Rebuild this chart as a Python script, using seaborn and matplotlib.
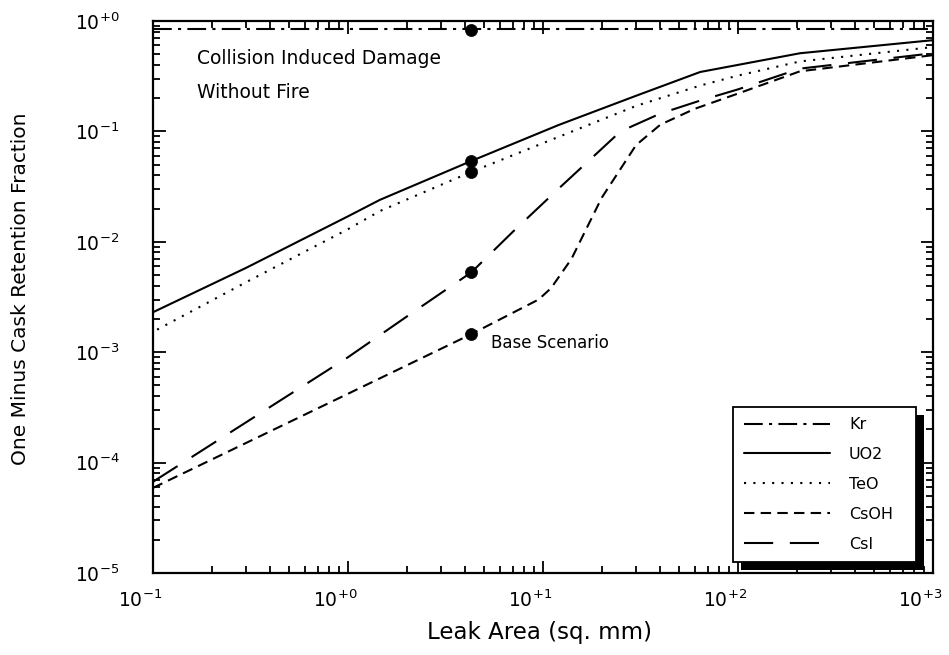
import numpy as np
import pandas as pd
import matplotlib
matplotlib.use("Agg")
import matplotlib.pyplot as plt
from matplotlib.patches import Rectangle
from matplotlib.transforms import IdentityTransform, ScaledTranslation
import seaborn as sns

# Leak area (sq. mm) and one-minus-retention fractions for each species
kr_area = [0.1, 1000.0]
kr_frac = [0.85, 0.85]

uo2_area = [0.1, 0.3, 1.0, 1.46, 4.3, 12.0, 30.0, 64.0, 100.0, 208.0, 1000.0]
uo2_frac = [0.0023, 0.0058, 0.017, 0.024, 0.054, 0.114, 0.21, 0.345, 0.40, 0.51, 0.67]

teo_area = [0.105, 0.3, 1.0, 1.46, 4.3, 12.0, 30.0, 64.0, 100.0, 208.0, 1000.0]
teo_frac = [0.0016, 0.0043, 0.013, 0.019, 0.043, 0.089, 0.17, 0.26, 0.32, 0.43, 0.58]

csoh_area = [0.1, 1.0, 4.3, 9.5, 11.0, 14.0, 20.0, 30.0, 40.0, 60.0, 100.0, 208.0, 1000.0]
csoh_frac = [5.9e-5, 4.2e-4, 0.00146, 0.0030, 0.0038, 0.007, 0.025, 0.075, 0.115, 0.16, 0.22, 0.35, 0.49]

csi_area = [0.1, 1.0, 2.0, 4.3, 7.0, 12.2, 25.0, 40.0, 64.0, 100.0, 208.0, 1000.0]
csi_frac = [6.7e-5, 9.0e-4, 0.0021, 0.0053, 0.0123, 0.031, 0.10, 0.145, 0.19, 0.24, 0.37, 0.51]

# Base-scenario points (leak area 4.3 sq. mm)
base_species = ["Kr", "UO2", "TeO", "CsI", "CsOH"]
base_area = [4.3, 4.3, 4.3, 4.3, 4.3]
base_frac = [0.83, 0.054, 0.043, 0.0053, 0.00146]

series_names = ["Kr", "UO2", "TeO", "CsOH", "CsI"]
x_ticks = [0.1, 1, 10, 100, 1000]
x_tick_labels = ["10$^{-1}$", "10$^{+0}$", "10$^{+1}$", "10$^{+2}$", "10$^{+3}$"]
y_ticks = [1e-5, 1e-4, 1e-3, 1e-2, 1e-1, 1]
y_tick_labels = ["10$^{-5}$", "10$^{-4}$", "10$^{-3}$", "10$^{-2}$", "10$^{-1}$", "10$^{+0}$"]

sns.set_theme(style="ticks")
plt.rcParams["font.family"] = ["DejaVu Sans"]
plt.rcParams["mathtext.default"] = "regular"
plt.rcParams["text.color"] = "black"
plt.rcParams["axes.labelcolor"] = "black"
plt.rcParams["xtick.color"] = "black"
plt.rcParams["ytick.color"] = "black"

styles = {
    "Kr": (0, (9, 3, 1.5, 3)),
    "UO2": "-",
    "TeO": (0, (1, 3.5)),
    "CsOH": (0, (5, 3)),
    "CsI": (0, (14, 8)),
}

frames = []
for name, xs, ys in [("Kr", kr_area, kr_frac), ("UO2", uo2_area, uo2_frac),
                     ("TeO", teo_area, teo_frac), ("CsOH", csoh_area, csoh_frac),
                     ("CsI", csi_area, csi_frac)]:
    frames.append(pd.DataFrame({"area": xs, "frac": ys, "species": name}))
df = pd.concat(frames, ignore_index=True)
base_df = pd.DataFrame({"area": base_area, "frac": base_frac, "species": base_species})

fig = plt.figure(figsize=(9.49, 6.55), dpi=100)
ax = fig.add_axes([0.1612, 0.1252, 0.8219, 0.8428])

for name in series_names:
    sub = df[df["species"] == name]
    sns.lineplot(data=sub, x="area", y="frac", ax=ax, color="black",
                 linewidth=1.5, linestyle=styles[name], label=name,
                 errorbar=None, sort=True)

sns.scatterplot(data=base_df, x="area", y="frac", ax=ax, color="black",
                s=75, marker="o", edgecolor="black", linewidth=0.5,
                legend=False, zorder=4)

ax.set_xscale("log")
ax.set_yscale("log")
ax.set_xlim(0.1, 1000)
ax.set_ylim(1e-5, 1)
ax.set_xticks(x_ticks)
ax.set_xticklabels(x_tick_labels)
ax.set_yticks(y_ticks)
ax.set_yticklabels(y_tick_labels)
ax.xaxis.set_minor_locator(matplotlib.ticker.LogLocator(base=10, subs=np.arange(2, 10)))
ax.yaxis.set_minor_locator(matplotlib.ticker.LogLocator(base=10, subs=np.arange(2, 10)))
ax.xaxis.set_minor_formatter(matplotlib.ticker.NullFormatter())
ax.yaxis.set_minor_formatter(matplotlib.ticker.NullFormatter())

ax.tick_params(which="both", direction="in", top=True, right=True,
               colors="black", width=1.3)
ax.tick_params(which="major", length=9, labelsize=13.5)
ax.tick_params(which="minor", length=5)
ax.tick_params(axis="x", which="major", pad=12)
ax.tick_params(axis="y", which="major", pad=24)
for sp in ax.spines.values():
    sp.set_color("black")
    sp.set_linewidth(1.6)

# x tick labels sit slightly left of their ticks, with the exponent over the tick
shift = ScaledTranslation(-9 / 72, 0, fig.dpi_scale_trans)
for lbl in ax.get_xticklabels():
    lbl.set_transform(lbl.get_transform() + shift)

ax.set_xlabel("Leak Area (sq. mm)", fontsize=16.5)
ax.set_ylabel("One Minus Cask Retention Fraction", fontsize=14.5)
ax.xaxis.set_label_coords(0.496, -0.087)
ax.yaxis.set_label_coords(-0.158, 0.514)

ax.text(0.056, 0.950, "Collision Induced Damage\nWithout Fire", transform=ax.transAxes,
        ha="left", va="top", fontsize=13.5, linespacing=2.0)
ax.annotate("Base Scenario", xy=(4.3, 0.00146), xytext=(14, -6.5),
            textcoords="offset points", ha="left", va="center", fontsize=12)

leg = ax.legend(loc="lower left", bbox_to_anchor=(0.744, 0.020, 0.234, 0.28),
                mode="expand", borderaxespad=0, fontsize=11.5, handlelength=5.4,
                handletextpad=1.2, labelspacing=0.93, borderpad=0.65, frameon=True,
                fancybox=False, edgecolor="black", framealpha=1)
leg.get_frame().set_linewidth(1.3)
leg.set_zorder(5)

fig.canvas.draw()
bb = leg.get_frame().get_window_extent()
shadow = Rectangle((bb.x0 + 8, bb.y0 - 8), bb.width, bb.height,
                   transform=IdentityTransform(), facecolor="black",
                   edgecolor="none", zorder=4.9, clip_on=False)
ax.add_artist(shadow)

fig.savefig("out.png", dpi=100, facecolor="white")
